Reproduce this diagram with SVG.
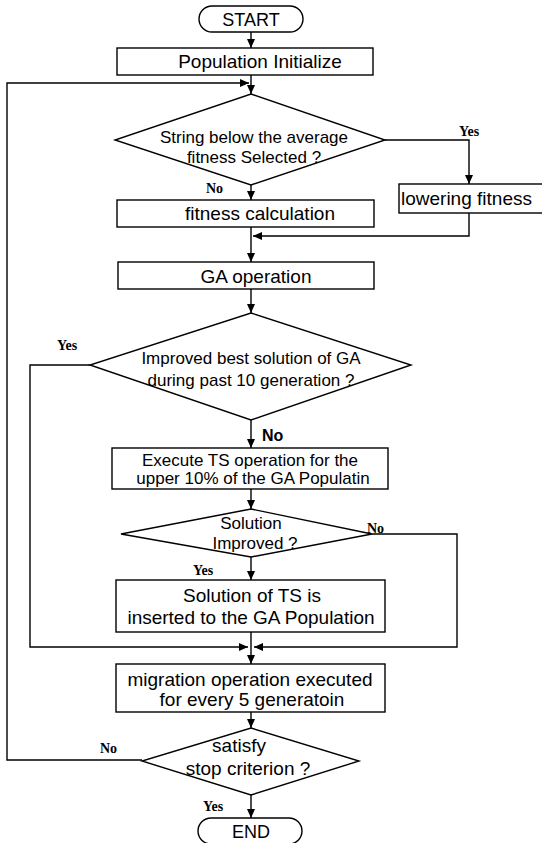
<svg xmlns="http://www.w3.org/2000/svg" width="542" height="843" viewBox="0 0 542 843">
<defs>
<marker id="ah" markerWidth="9" markerHeight="8" refX="9" refY="4" orient="auto" markerUnits="userSpaceOnUse">
<path d="M0,0 L9,4 L0,8 z" fill="#000"/>
</marker>
<style>
.shape{fill:#fff;stroke:#000;stroke-width:1.4}
.ln{fill:none;stroke:#000;stroke-width:1.4}
.t19{font-family:"Liberation Sans",Arial,sans-serif;font-size:19px;fill:#000;text-anchor:middle}
.t17{font-family:"Liberation Sans",Arial,sans-serif;font-size:17px;fill:#000;text-anchor:middle}
.t18{font-family:"Liberation Sans",Arial,sans-serif;font-size:18px;fill:#000;text-anchor:middle}
.lab{font-family:"Liberation Serif","Times New Roman",serif;font-size:14px;font-weight:bold;fill:#000}
.labs{font-family:"Liberation Sans",Arial,sans-serif;font-size:16px;font-weight:bold;fill:#000}
</style>
</defs>
<rect width="542" height="843" fill="#fff"/>
<g id="connectors">
<line class="ln" x1="251" y1="32" x2="251" y2="48" marker-end="url(#ah)"/>
<line class="ln" x1="251" y1="75" x2="251" y2="94" marker-end="url(#ah)"/>
<polyline class="ln" points="142,760 7,760 7,83 249,83" marker-end="url(#ah)"/>
<polyline class="ln" points="385,140 469,140 469,184" marker-end="url(#ah)"/>
<line class="ln" x1="251" y1="185" x2="251" y2="200" marker-end="url(#ah)"/>
<polyline class="ln" points="469,213 469,236 253,236" marker-end="url(#ah)"/>
<line class="ln" x1="251" y1="227" x2="251" y2="262" marker-end="url(#ah)"/>
<line class="ln" x1="251" y1="289" x2="251" y2="313" marker-end="url(#ah)"/>
<polyline class="ln" points="90,365 30,365 30,647 248,647" marker-end="url(#ah)"/>
<line class="ln" x1="251" y1="420" x2="251" y2="448" marker-end="url(#ah)"/>
<line class="ln" x1="251" y1="489" x2="251" y2="509" marker-end="url(#ah)"/>
<polyline class="ln" points="372,534 457,534 457,647 254,647" marker-end="url(#ah)"/>
<line class="ln" x1="251" y1="557" x2="251" y2="580" marker-end="url(#ah)"/>
<line class="ln" x1="251" y1="632" x2="251" y2="664" marker-end="url(#ah)"/>
<line class="ln" x1="251" y1="712" x2="251" y2="728" marker-end="url(#ah)"/>
<line class="ln" x1="251" y1="795" x2="251" y2="818" marker-end="url(#ah)"/>
</g>
<g id="start">
<rect class="shape" x="199" y="6" width="104" height="26" rx="13"/>
<text class="t18" x="251" y="26">START</text>
</g>
<g id="pop-init">
<rect class="shape" x="117" y="48" width="256" height="27"/>
<text class="t19" x="260" y="68">Population Initialize</text>
</g>
<g id="dec-below-avg">
<polygon class="shape" points="251,94 385,140 251,185 115,140"/>
<text class="t17" x="254" y="143">String below the average</text>
<text class="t17" x="254" y="163">fitness Selected ?</text>
<text class="lab" x="459" y="136">Yes</text>
<text class="lab" x="206" y="193">No</text>
</g>
<g id="lowering">
<rect class="shape" x="399" y="184" width="150" height="29"/>
<text class="t19" x="401" y="205" style="text-anchor:start">lowering fitness</text>
</g>
<g id="fitness-calc">
<rect class="shape" x="117" y="200" width="257" height="27"/>
<text class="t19" x="260" y="220">fitness calculation</text>
</g>
<g id="ga-op">
<rect class="shape" x="118" y="262" width="256" height="27"/>
<text class="t19" x="256" y="283">GA operation</text>
</g>
<g id="dec-improved">
<polygon class="shape" points="251,313 411,365 251,420 90,365"/>
<text class="t17" x="251" y="364">Improved best solution of GA</text>
<text class="t17" x="251" y="386">during past 10 generation ?</text>
<text class="lab" x="57" y="350">Yes</text>
<text class="labs" x="262" y="441">No</text>
</g>
<g id="ts-op">
<rect class="shape" x="112" y="448" width="276" height="41"/>
<text class="t17" x="250" y="466">Execute TS operation for the</text>
<text class="t17" x="253" y="484">upper 10% of the GA Populatin</text>
</g>
<g id="dec-sol-improved">
<polygon class="shape" points="251,509 372,534 251,557 121,534"/>
<text class="t17" x="251" y="529">Solution</text>
<text class="t17" x="255" y="549">Improved ?</text>
<text class="lab" x="367" y="533">No</text>
<text class="lab" x="193" y="575">Yes</text>
</g>
<g id="ts-insert">
<rect class="shape" x="116" y="580" width="269" height="52"/>
<text class="t19" x="252" y="602">Solution of TS is</text>
<text class="t19" x="251" y="624">inserted to the GA Population</text>
</g>
<g id="migration">
<rect class="shape" x="116" y="664" width="269" height="48"/>
<text class="t19" x="250" y="686">migration operation executed</text>
<text class="t19" x="252" y="706">for every 5 generatoin</text>
</g>
<g id="dec-stop">
<polygon class="shape" points="251,728 359,761 251,795 142,761"/>
<text class="t19" x="239" y="752">satisfy</text>
<text class="t19" x="248" y="775">stop criterion ?</text>
<text class="lab" x="100" y="753">No</text>
<text class="lab" x="203" y="811">Yes</text>
</g>
<g id="end">
<rect class="shape" x="198" y="818" width="104" height="26" rx="13"/>
<text class="t18" x="251" y="838">END</text>
</g>
</svg>
